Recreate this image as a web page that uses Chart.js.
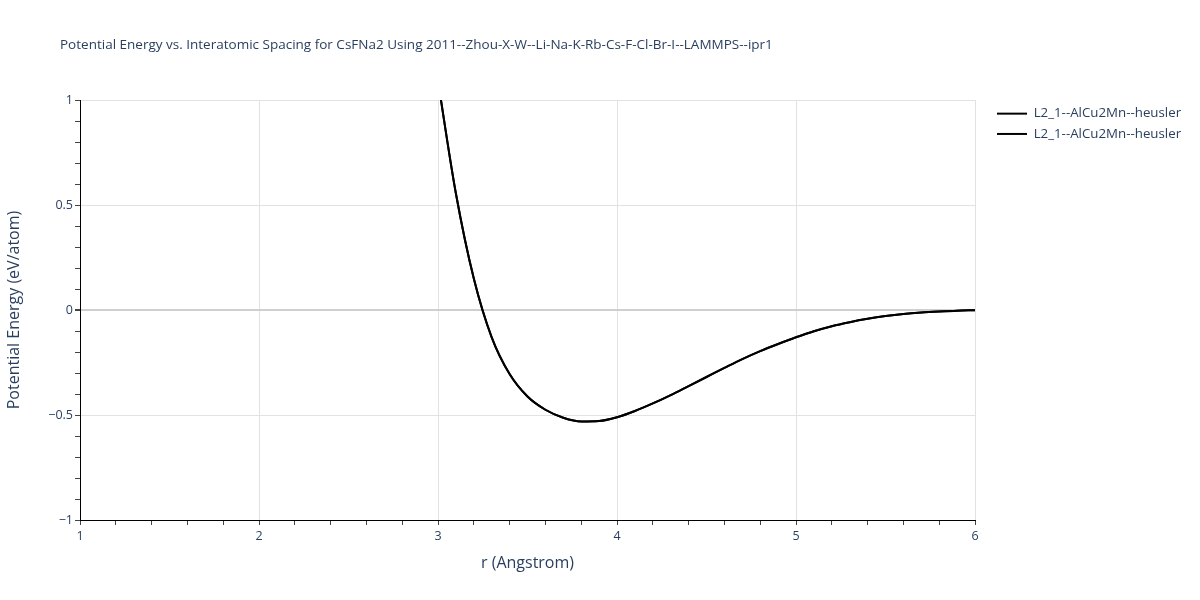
<!DOCTYPE html>
<html>
<head>
<meta charset="utf-8">
<script src="https://cdn.jsdelivr.net/npm/chart.js@4"></script>
<style>
  html, body { margin: 0; padding: 0; background: #fff; }
  #wrap { width: 1200px; height: 600px; }
</style>
</head>
<body>
<div id="wrap"><canvas id="chart" width="1200" height="600"></canvas></div>
<script>
//////////////// DATA
const chartTitle = 'Potential Energy vs. Interatomic Spacing for CsFNa2 Using 2011--Zhou-X-W--Li-Na-K-Rb-Cs-F-Cl-Br-I--LAMMPS--ipr1';
const seriesNames = ['L2_1--AlCu2Mn--heusler', 'L2_1--AlCu2Mn--heusler'];

const rValues = [3.0, 3.1, 3.2, 3.3, 3.4, 3.5, 3.6, 3.7, 3.8, 3.9, 4.0, 4.1, 4.2, 4.3, 4.4, 4.5,
  4.6, 4.7, 4.8, 4.9, 5.0, 5.1, 5.2, 5.3, 5.4, 5.5, 5.6, 5.7, 5.8, 5.9, 6.0];
const energyValues = [1.09, 0.555, 0.15, -0.13, -0.305, -0.412, -0.475, -0.513, -0.531, -0.529, -0.511, -0.481,
  -0.445, -0.405, -0.362, -0.319, -0.276, -0.234, -0.196, -0.162, -0.130, -0.101, -0.077, -0.058,
  -0.042, -0.029, -0.019, -0.012, -0.007, -0.003, -0.001];

const xMajorTicks = [1, 2, 3, 4, 5, 6];
const yMajorTicks = [-1, -0.5, 0, 0.5, 1];
const xMinorStep = 0.2;
const yMinorStep = 0.1;

const textColor = '#2a3f5f';
const fontFamily = '"Open Sans", Verdana, Arial, sans-serif';

function isMajor(list, v) {
  return list.some(m => Math.abs(m - v) < 1e-9);
}

function buildTicks(min, max, step) {
  const out = [];
  const n = Math.round((max - min) / step);
  for (let i = 0; i <= n; i++) out.push({ value: +(min + i * step).toFixed(6) });
  return out;
}

function fmt(v) {
  return String(v).replace('-', '\u2212');
}

const points = rValues.map((r, i) => ({ x: r, y: energyValues[i] }));

// title drawn at the top left like the original
const titlePlugin = {
  id: 'plotTitle',
  afterDraw(chart) {
    const ctx = chart.ctx;
    ctx.save();
    ctx.font = '13.5px ' + fontFamily;
    ctx.fillStyle = textColor;
    ctx.textBaseline = 'middle';
    ctx.textAlign = 'left';
    ctx.fillText(chartTitle, 60, 45);
    ctx.restore();
  }
};

const ctx = document.getElementById('chart').getContext('2d');
new Chart(ctx, {
  type: 'scatter',
  data: {
    datasets: seriesNames.map(name => ({
      label: name,
      data: points,
      showLine: true,
      borderColor: '#000',
      backgroundColor: '#000',
      borderWidth: 2,
      pointRadius: 0,
      pointHoverRadius: 0,
      pointStyle: 'line',
      cubicInterpolationMode: 'monotone',
      clip: 0,
    })),
  },
  options: {
    responsive: false,
    animation: false,
    layout: { padding: { top: 100, left: 0, right: 12, bottom: 0 } },
    plugins: {
      title: { display: false },
      tooltip: { enabled: false },
      legend: {
        position: 'right',
        align: 'start',
        labels: {
          usePointStyle: true,
          pointStyle: 'line',
          pointStyleWidth: 30,
          color: textColor,
          padding: 7,
          font: { family: fontFamily, size: 13.3 },
        },
      },
    },
    scales: {
      x: {
        type: 'linear',
        min: 1,
        max: 6,
        afterBuildTicks: s => { s.ticks = buildTicks(1, 6, xMinorStep); },
        afterFit: s => { s.height = 80; },
        ticks: {
          color: textColor,
          font: { family: fontFamily, size: 12.5 },
          padding: 4,
          maxRotation: 0,
          autoSkip: false,
          callback: v => isMajor(xMajorTicks, v) ? fmt(v) : '',
        },
        grid: {
          color: c => isMajor(xMajorTicks, c.tick.value) ? '#e2e2e2' : 'rgba(0,0,0,0)',
          tickColor: '#444',
          tickLength: 5,
          drawTicks: true,
        },
        border: { display: true, color: '#000', width: 1 },
        title: {
          display: true,
          text: 'r (Angstrom)',
          color: textColor,
          font: { family: fontFamily, size: 16 },
          padding: { top: 0, bottom: 27 },
        },
      },
      y: {
        type: 'linear',
        min: -1,
        max: 1,
        afterBuildTicks: s => { s.ticks = buildTicks(-1, 1, yMinorStep); },
        afterFit: s => { s.width = 80; },
        ticks: {
          color: textColor,
          font: { family: fontFamily, size: 12.5 },
          padding: 2,
          autoSkip: false,
          callback: v => isMajor(yMajorTicks, v) ? fmt(v) : '',
        },
        grid: {
          color: c => {
            const v = c.tick.value;
            if (Math.abs(v) < 1e-9) return '#cfcfcf';
            return isMajor(yMajorTicks, v) ? '#e2e2e2' : 'rgba(0,0,0,0)';
          },
          lineWidth: c => Math.abs(c.tick.value) < 1e-9 ? 2 : 1,
          tickColor: '#444',
          tickLength: 5,
          drawTicks: true,
        },
        border: { display: true, color: '#000', width: 1 },
        title: {
          display: true,
          text: 'Potential Energy (eV/atom)',
          color: textColor,
          font: { family: fontFamily, size: 16 },
          padding: { top: 5, bottom: 0 },
        },
      },
      gap: {
        type: 'linear',
        axis: 'y',
        position: 'right',
        display: true,
        grid: { display: false },
        ticks: { display: false },
        border: { display: false },
        afterFit: s => { s.width = 15; },
      },
    },
  },
  plugins: [titlePlugin],
});
</script>
</body>
</html>
